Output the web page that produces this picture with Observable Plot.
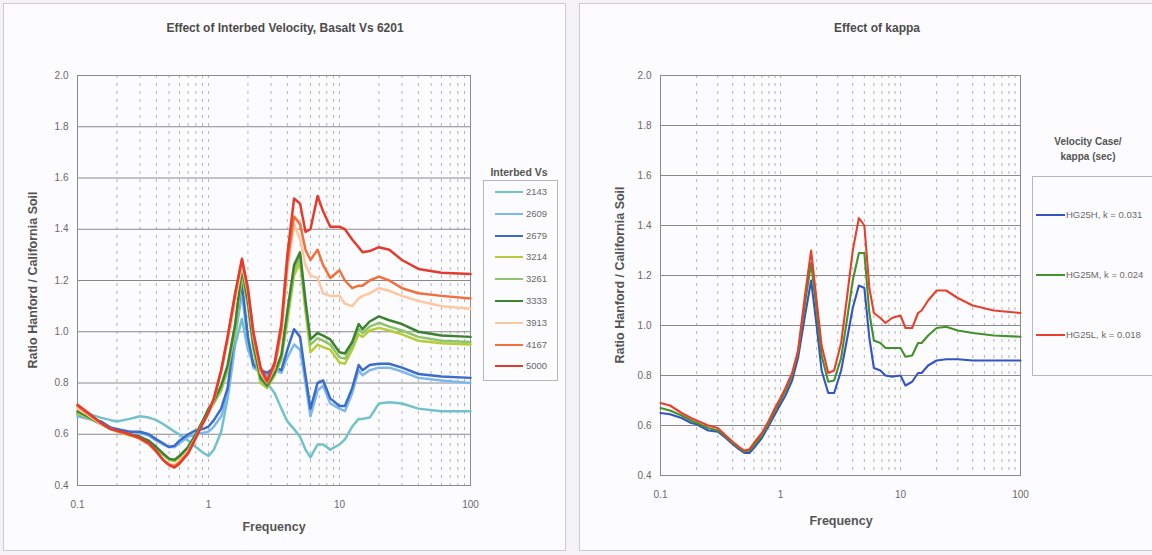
<!DOCTYPE html>
<html><head><meta charset="utf-8">
<script src="https://cdn.jsdelivr.net/npm/d3@7"></script>
<script src="https://cdn.jsdelivr.net/npm/@observablehq/plot@0.6"></script>
<style>
body{margin:0;background:#f5f2f6;font-family:"Liberation Sans",Arial,sans-serif;}
#wrap{position:relative;width:1152px;height:555px;overflow:hidden;}
.panel{position:absolute;background:#fcfbfd;border:1px solid #cdcad0;box-sizing:border-box;}
.t{position:absolute;white-space:nowrap;transform:translate(-50%,-50%);}
.title{font-weight:bold;font-size:12px;color:#4c4c4c;}
.axt{font-weight:bold;font-size:12.5px;color:#555;}
.rot{transform:translate(-50%,-50%) rotate(-90deg);}
.legbox{position:absolute;border:1px solid #b8b6bb;background:#fcfbfd;box-sizing:border-box;}
.legrow{position:absolute;height:12px;font-size:9.5px;color:#6a6a6a;white-space:nowrap;}
.legrow span.sw{position:absolute;top:5px;height:0;border-top:2px solid;}
.legrow span.lb{position:absolute;top:0;line-height:12px;}
svg.pl{position:absolute;top:0;}
</style></head>
<body>
<div id="wrap">
  <div class="panel" style="left:3px;top:3px;width:563px;height:548px;"></div>
  <div class="panel" style="left:579px;top:3px;width:575px;height:548px;"></div>
  <div class="t title" style="left:285px;top:28px;">Effect of Interbed Velocity, Basalt Vs 6201</div>
  <div class="t title" style="left:877px;top:28px;">Effect of kappa</div>
  <div class="t axt rot" style="left:33px;top:280px;">Ratio Hanford / California Soil</div>
  <div class="t axt rot" style="left:620px;top:275px;">Ratio Hanford / California Soil</div>
  <div class="t axt" style="left:274px;top:527px;">Frequency</div>
  <div class="t axt" style="left:841px;top:521px;">Frequency</div>
  <div class="t" style="left:519px;top:172px;font-weight:bold;font-size:10.5px;color:#555;">Interbed Vs</div>
  <div class="legbox" id="legL" style="left:483px;top:180px;width:75px;height:201px;"></div>
  <div class="t" style="left:1088px;top:141px;font-weight:bold;font-size:10px;color:#555;">Velocity Case/</div>
  <div class="t" style="left:1088px;top:156px;font-weight:bold;font-size:10px;color:#555;">kappa (sec)</div>
  <div class="legbox" id="legR" style="left:1032px;top:176px;width:130px;height:200px;"></div>
</div>
<script>
// ---- data ----
const freq = [0.1,0.12,0.15,0.18,0.2,0.25,0.3,0.35,0.4,0.45,0.5,0.55,0.6,0.7,0.8,0.9,1.0,1.1,1.25,1.4,1.6,1.8,2.0,2.2,2.5,2.8,3.2,3.6,4.0,4.5,5.0,5.5,6.0,6.8,7.5,8.5,10,11,12.5,14,15,17,20,24,30,40,60,100];

const vs2143 = [0.68,0.68,0.665,0.655,0.65,0.66,0.67,0.665,0.655,0.64,0.625,0.61,0.60,0.575,0.55,0.53,0.515,0.54,0.61,0.74,0.95,1.05,0.93,0.88,0.84,0.80,0.76,0.70,0.65,0.62,0.59,0.54,0.51,0.56,0.56,0.54,0.56,0.58,0.63,0.66,0.66,0.665,0.72,0.725,0.72,0.70,0.69,0.69];
const vs2609 = [0.67,0.66,0.65,0.625,0.62,0.61,0.605,0.595,0.575,0.56,0.55,0.55,0.565,0.59,0.60,0.605,0.61,0.63,0.67,0.75,0.98,1.15,0.96,0.86,0.84,0.83,0.85,0.84,0.90,0.95,0.93,0.80,0.67,0.77,0.79,0.72,0.70,0.69,0.76,0.85,0.83,0.85,0.86,0.86,0.845,0.82,0.81,0.80];
const vs2679 = [0.68,0.665,0.65,0.625,0.62,0.61,0.61,0.60,0.58,0.565,0.55,0.555,0.575,0.60,0.615,0.62,0.63,0.655,0.70,0.78,1.02,1.19,0.98,0.87,0.85,0.84,0.86,0.85,0.93,1.01,0.98,0.83,0.70,0.80,0.81,0.74,0.71,0.71,0.78,0.87,0.85,0.87,0.875,0.875,0.86,0.835,0.825,0.82];
const vs3214 = [0.68,0.665,0.64,0.62,0.61,0.595,0.585,0.57,0.545,0.52,0.50,0.495,0.51,0.545,0.595,0.645,0.69,0.72,0.77,0.85,1.0,1.22,1.10,0.93,0.80,0.78,0.83,0.89,1.04,1.22,1.27,1.08,0.92,0.95,0.94,0.93,0.88,0.875,0.93,0.99,0.98,1.005,1.015,1.005,0.99,0.965,0.955,0.95];
const vs3261 = [0.685,0.665,0.64,0.62,0.612,0.60,0.59,0.572,0.547,0.522,0.503,0.50,0.515,0.55,0.60,0.65,0.695,0.725,0.78,0.86,1.02,1.24,1.11,0.94,0.81,0.785,0.835,0.90,1.06,1.24,1.29,1.10,0.95,0.975,0.965,0.95,0.90,0.895,0.945,1.01,0.995,1.02,1.035,1.02,1.005,0.98,0.965,0.96];
const vs3333 = [0.69,0.67,0.64,0.62,0.615,0.60,0.59,0.575,0.55,0.525,0.505,0.50,0.515,0.55,0.60,0.65,0.70,0.73,0.79,0.87,1.03,1.25,1.12,0.95,0.82,0.79,0.84,0.91,1.08,1.26,1.31,1.12,0.97,0.995,0.985,0.97,0.92,0.915,0.96,1.03,1.01,1.04,1.06,1.045,1.03,1.00,0.985,0.98];
const vs3913 = [0.70,0.675,0.64,0.62,0.61,0.60,0.58,0.56,0.53,0.50,0.485,0.48,0.495,0.535,0.59,0.64,0.68,0.735,0.84,0.96,1.12,1.26,1.15,0.98,0.84,0.80,0.86,0.99,1.24,1.42,1.36,1.26,1.22,1.21,1.15,1.14,1.14,1.11,1.10,1.13,1.14,1.15,1.17,1.16,1.14,1.12,1.10,1.09];
const vs4167 = [0.71,0.68,0.645,0.62,0.612,0.60,0.583,0.562,0.532,0.50,0.48,0.475,0.49,0.53,0.59,0.64,0.685,0.74,0.85,0.98,1.15,1.28,1.16,0.99,0.85,0.80,0.87,1.01,1.27,1.45,1.42,1.32,1.28,1.32,1.26,1.21,1.24,1.20,1.17,1.18,1.18,1.20,1.215,1.20,1.17,1.15,1.14,1.13];
const vs5000 = [0.715,0.685,0.645,0.62,0.615,0.60,0.585,0.565,0.535,0.50,0.48,0.47,0.485,0.525,0.585,0.64,0.685,0.74,0.85,0.98,1.15,1.285,1.17,1.0,0.86,0.81,0.88,1.03,1.30,1.52,1.50,1.39,1.40,1.53,1.47,1.41,1.41,1.40,1.36,1.33,1.31,1.315,1.33,1.32,1.28,1.245,1.23,1.225];

const vsLabels = ["2143","2609","2679","3214","3261","3333","3913","4167","5000"];
const vsColors = ["#72c2cc","#7cb8f0","#3b6cc9","#b6cd3a","#8ec46a","#3d8232","#ffc7a0","#f2703e","#e53a2e"];

const kappaH = [0.65,0.645,0.63,0.61,0.605,0.58,0.575,0.55,0.525,0.505,0.49,0.49,0.51,0.55,0.60,0.645,0.685,0.72,0.78,0.87,1.04,1.18,1.00,0.82,0.73,0.73,0.82,0.95,1.07,1.16,1.15,0.95,0.83,0.82,0.80,0.795,0.80,0.76,0.775,0.81,0.81,0.84,0.86,0.865,0.865,0.86,0.86,0.86];
const kappaM = [0.67,0.66,0.64,0.62,0.61,0.59,0.58,0.555,0.53,0.51,0.495,0.50,0.52,0.56,0.61,0.66,0.70,0.74,0.80,0.89,1.09,1.25,1.06,0.88,0.775,0.78,0.87,1.03,1.18,1.29,1.29,1.05,0.94,0.93,0.91,0.91,0.91,0.875,0.88,0.93,0.93,0.96,0.99,0.995,0.98,0.97,0.96,0.955];
const kappaL = [0.69,0.68,0.65,0.63,0.62,0.60,0.59,0.56,0.535,0.515,0.50,0.505,0.53,0.57,0.62,0.67,0.71,0.75,0.81,0.90,1.12,1.30,1.10,0.92,0.81,0.82,0.93,1.12,1.30,1.43,1.40,1.15,1.05,1.03,1.01,1.03,1.04,0.99,0.99,1.05,1.06,1.10,1.14,1.14,1.11,1.08,1.06,1.05];

const kappaLabels = ["HG25H, k = 0.031","HG25M, k = 0.024","HG25L, k = 0.018"];
const kappaColors = ["#3553c4","#44922c","#e8402f"];

const xTicks = [0.1, 1, 10, 100];
const yTicks = [0.4, 0.6, 0.8, 1.0, 1.2, 1.4, 1.6, 1.8, 2.0];

// ---- build tables ----
const vsSeries = [vs2143, vs2609, vs2679, vs3214, vs3261, vs3333, vs3913, vs4167, vs5000];
const leftData = vsSeries.flatMap((arr, i) => arr.map((v, j) => ({f: freq[j], v, s: vsLabels[i]})));
const kSeries = [kappaH, kappaM, kappaL];
const rightData = kSeries.flatMap((arr, i) => arr.map((v, j) => ({f: freq[j], v, s: kappaLabels[i]})));

const minorX = d3.scaleLog().domain([0.1, 100]).ticks();

function makePlot(data, labels, colors, w, h, sw) {
  return Plot.plot({
    width: w, height: h,
    marginLeft: 77, marginRight: 10, marginTop: 75, marginBottom: 60,
    style: {background: "transparent", fontFamily: "Liberation Sans, Arial, sans-serif", fontSize: "10px", color: "#6a6a6a"},
    x: {type: "log", domain: [0.1, 100]},
    y: {domain: [0.4, 2.0]},
    color: {domain: labels, range: colors},
    marks: [
      Plot.ruleX(minorX, {stroke: "#a8a8a8", strokeOpacity: 0.85, strokeDasharray: "3,5"}),
      Plot.ruleY(yTicks, {stroke: "#8a8a8a", strokeWidth: 1}),
      Plot.frame({stroke: "#8a8a8a"}),
      Plot.axisX(xTicks, {tickSize: 0, tickPadding: 15, tickFormat: d => String(d), label: null}),
      Plot.axisY(yTicks, {tickSize: 0, tickPadding: 9, tickFormat: d => d.toFixed(1), label: null}),
      Plot.line(data, {x: "f", y: "v", z: "s", stroke: "s", strokeWidth: sw, strokeLinejoin: "round"})
    ]
  });
}

const wrap = document.getElementById("wrap");
const pL = makePlot(leftData, vsLabels, vsColors, 480, 545, 2.5);
pL.classList.add("pl"); pL.style.left = "0px";
wrap.appendChild(pL);
const pR = makePlot(rightData, kappaLabels, kappaColors, 447, 535, 2.1);
pR.classList.add("pl"); pR.style.left = "583px";
wrap.appendChild(pR);

// ---- legends ----
function legend(boxId, labels, colors, rows, swLeft, swW, lbLeft) {
  const box = document.getElementById(boxId);
  labels.forEach((lab, i) => {
    const r = document.createElement("div");
    r.className = "legrow";
    r.style.left = "0px"; r.style.top = (rows[i] - 6) + "px"; r.style.width = "100%";
    const s = document.createElement("span");
    s.className = "sw"; s.style.left = swLeft + "px"; s.style.width = swW + "px"; s.style.borderColor = colors[i];
    const t = document.createElement("span");
    t.className = "lb"; t.style.left = lbLeft + "px"; t.textContent = lab;
    r.appendChild(s); r.appendChild(t); box.appendChild(r);
  });
}
legend("legL", vsLabels, vsColors, vsLabels.map((_, i) => 11 + i * 21.8), 11, 28, 42);
legend("legR", kappaLabels, kappaColors, [38, 98, 158], 3, 29, 33);
</script>
</body></html>
